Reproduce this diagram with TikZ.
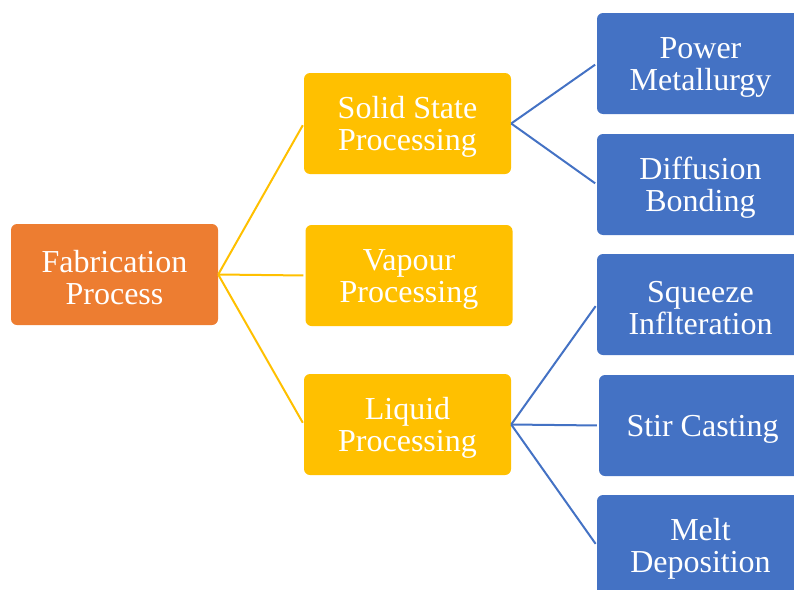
\documentclass[tikz,border=0pt]{standalone}
\usepackage{fontspec}
\setmainfont{Liberation Serif}
\definecolor{fabor}{HTML}{ED7D31}
\definecolor{procyl}{HTML}{FFC000}
\definecolor{methbl}{HTML}{4472C4}
\tikzset{
  box/.style={rounded corners=6pt,minimum width=207pt,minimum height=101pt,
    align=center,text=white,inner sep=0pt,
    font=\fontsize{32}{32}\selectfont,
    execute at begin node={\rule{0pt}{28pt}}},
  twoline/.style={execute at begin node={\rule{0pt}{60pt}}},
  rootbox/.style={box,twoline,fill=fabor},
  procbox/.style={box,twoline,fill=procyl},
  methbox/.style={box,twoline,fill=methbl},
  singlebox/.style={box,fill=methbl},
  procline/.style={draw=procyl,line width=2pt,shorten >=2pt},
  methline/.style={draw=methbl,line width=2pt,shorten >=2pt}
}
\begin{document}
\begin{tikzpicture}[x=1pt,y=-1pt]
      \useasboundingbox (0,0) rectangle (794,589);
      \begin{scope}
      \clip (0,0) rectangle (794,589);
      % first level
      \node[rootbox] (fab) at (114.5,274.5) {Fabrication\\Process};
      % second level
      \node[procbox] (solid) at (407.5,123.5) {Solid State\\Processing};
      \node[procbox] (vap) at (409,275.5) {Vapour\\Processing};
      \node[procbox] (liq) at (407.5,424.5) {Liquid\\Processing};
      % third level
      \node[methbox] (pow) at (700.5,63.5) {Power\\Metallurgy};
      \node[methbox] (diff) at (700.5,184.5) {Diffusion\\Bonding};
      \node[methbox] (sqz) at (700.5,304.5) {Squeeze\\Inflteration};
      \node[singlebox] (stir) at (702.5,425.5) {Stir Casting};
      \node[methbox] (melt) at (700.5,545.5) {Melt\\Deposition};
      % connectors
      \draw[procline] (fab.east) -- (solid.west);
      \draw[procline] (fab.east) -- (vap.west);
      \draw[procline] (fab.east) -- (liq.west);
      \draw[methline] (solid.east) -- (pow.west);
      \draw[methline] (solid.east) -- (diff.west);
      \draw[methline] (liq.east) -- (sqz.west);
      \draw[methline] (liq.east) -- (stir.west);
      \draw[methline] (liq.east) -- (melt.west);
      \end{scope}
    \end{tikzpicture}
\end{document}
